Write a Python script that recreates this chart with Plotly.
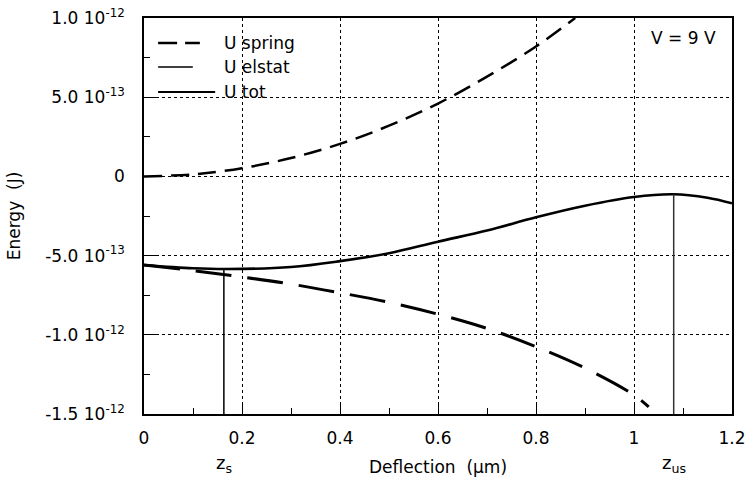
import plotly.graph_objects as go

# Energy curves of an electrostatically actuated beam (V = 9 V)
z_spring = [0, 0.1, 0.2, 0.3, 0.4, 0.5, 0.6, 0.7, 0.8, 0.88]
u_spring = [0, 0.13e-13, 0.52e-13, 1.16e-13, 2.05e-13, 3.2e-13, 4.6e-13, 6.3e-13, 8.2e-13, 1.0e-12]

z_elstat = [0, 0.1, 0.2, 0.3, 0.4, 0.5, 0.6, 0.7, 0.8, 0.9, 1.0, 1.03]
u_elstat = [-5.6e-13, -5.95e-13, -6.35e-13, -6.8e-13, -7.35e-13, -7.95e-13,
            -8.7e-13, -9.6e-13, -10.75e-13, -12.1e-13, -13.8e-13, -14.55e-13]

z_tot = [0, 0.1, 0.17, 0.3, 0.4, 0.5, 0.6, 0.7, 0.8, 0.9, 1.0, 1.08, 1.15, 1.2]
u_tot = [-5.6e-13, -5.8e-13, -5.85e-13, -5.72e-13, -5.35e-13, -4.85e-13, -4.12e-13,
         -3.42e-13, -2.58e-13, -1.85e-13, -1.3e-13, -1.13e-13, -1.35e-13, -1.7e-13]

# stable / unstable equilibrium deflections
z_s, u_at_zs = 0.163, -5.85e-13
z_us, u_at_zus = 1.081, -1.13e-13

x_ticks = [0, 0.2, 0.4, 0.6, 0.8, 1.0, 1.2]
x_ticktext = ["0", "0.2", "0.4", "0.6", "0.8", "1", "1.2"]
y_ticks = [-1.5e-12, -1.0e-12, -5.0e-13, 0, 5.0e-13, 1.0e-12]
y_ticktext = ["-1.5 10<sup>-12</sup>", "-1.0 10<sup>-12</sup>", "-5.0 10<sup>-13</sup>", "0",
              "5.0 10<sup>-13</sup>", "1.0 10<sup>-12</sup>"]
y_min, y_max = -1.5e-12, 1.0e-12

FONT = "DejaVu Sans"
FS = 17

fig = go.Figure()
fig.add_trace(go.Scatter(x=z_spring, y=u_spring, mode="lines", name="U spring",
                         line=dict(color="black", width=2.5, dash="18px,9px", shape="spline")))
fig.add_trace(go.Scatter(x=z_elstat, y=u_elstat, mode="lines", name="U elstat",
                         line=dict(color="black", width=3, dash="36px,16px", shape="spline")))
fig.add_trace(go.Scatter(x=z_tot, y=u_tot, mode="lines", name="U tot",
                         line=dict(color="black", width=2.6, shape="spline")))
fig.add_trace(go.Scatter(x=[z_s, z_s], y=[y_min, u_at_zs], mode="lines",
                         line=dict(color="black", width=1.5), showlegend=False))
fig.add_trace(go.Scatter(x=[z_us, z_us], y=[y_min, u_at_zus], mode="lines",
                         line=dict(color="#333333", width=1.5), showlegend=False))

axis_common = dict(
    showline=True, linecolor="black", linewidth=1.5, mirror=True,
    ticks="inside", ticklen=12, tickwidth=1, tickcolor="black",
    showgrid=True, gridcolor="black", gridwidth=1, griddash="dot",
    zeroline=False, automargin=False,
    tickfont=dict(family=FONT, size=FS, color="black"),
)

fig.update_xaxes(
    range=[0, 1.2], tickvals=x_ticks, ticktext=x_ticktext,
    minor=dict(ticks="inside", ticklen=6, dtick=0.1, tick0=0, tickcolor="black", showgrid=False),
    ticklabelstandoff=8,
    title=dict(text="Deflection  (µm)", font=dict(family=FONT, size=FS, color="black"), standoff=14),
    **axis_common,
)
fig.update_yaxes(
    range=[y_min, y_max], tickvals=y_ticks, ticktext=y_ticktext,
    minor=dict(ticks="inside", ticklen=6, dtick=2.5e-13, tick0=0, tickcolor="black", showgrid=False),
    ticklabelstandoff=14,
    title=dict(text="Energy  (J)", font=dict(family=FONT, size=FS, color="black"), standoff=20),
    **axis_common,
)

# legend block drawn in the upper-left corner of the plotting area
shapes = [
    dict(type="rect", xref="paper", yref="paper", x0=0.003, x1=0.282, y0=0.768, y1=0.996,
         fillcolor="white", line=dict(width=0), layer="between"),
    dict(type="line", xref="paper", yref="paper", x0=0.024, x1=0.095, y0=0.937, y1=0.937,
         line=dict(color="black", width=2.5, dash="19px,8px")),
    dict(type="line", xref="paper", yref="paper", x0=0.024, x1=0.083, y0=0.876, y1=0.876,
         line=dict(color="black", width=1.5)),
    dict(type="line", xref="paper", yref="paper", x0=0.024, x1=0.121, y0=0.813, y1=0.813,
         line=dict(color="black", width=2)),
]
legend_labels = [("U spring", 0.937), ("U elstat", 0.876), ("U tot", 0.813)]
annotations = [
    dict(text=t, xref="paper", yref="paper", x=0.133, y=y, xanchor="left", yanchor="middle",
         showarrow=False, font=dict(family=FONT, size=FS, color="black"))
    for t, y in legend_labels
]
annotations += [
    dict(text="V = 9 V", xref="paper", yref="paper", x=0.917, y=0.949, xanchor="center",
         yanchor="middle", showarrow=False, font=dict(family=FONT, size=FS, color="black")),
    dict(text="z<sub>s</sub>", xref="x", yref="paper", x=z_s, y=-0.125, xanchor="center",
         yanchor="middle", showarrow=False, font=dict(family=FONT, size=FS + 1, color="black")),
    dict(text="z<sub>us</sub>", xref="x", yref="paper", x=z_us, y=-0.125, xanchor="center",
         yanchor="middle", showarrow=False, font=dict(family=FONT, size=FS + 1, color="black")),
]

fig.update_layout(
    width=749, height=486,
    margin=dict(l=144, r=17, t=18, b=72),
    paper_bgcolor="white", plot_bgcolor="white",
    showlegend=False,
    shapes=shapes, annotations=annotations,
    font=dict(family=FONT, size=FS, color="black"),
)

fig.write_html("out.html")
